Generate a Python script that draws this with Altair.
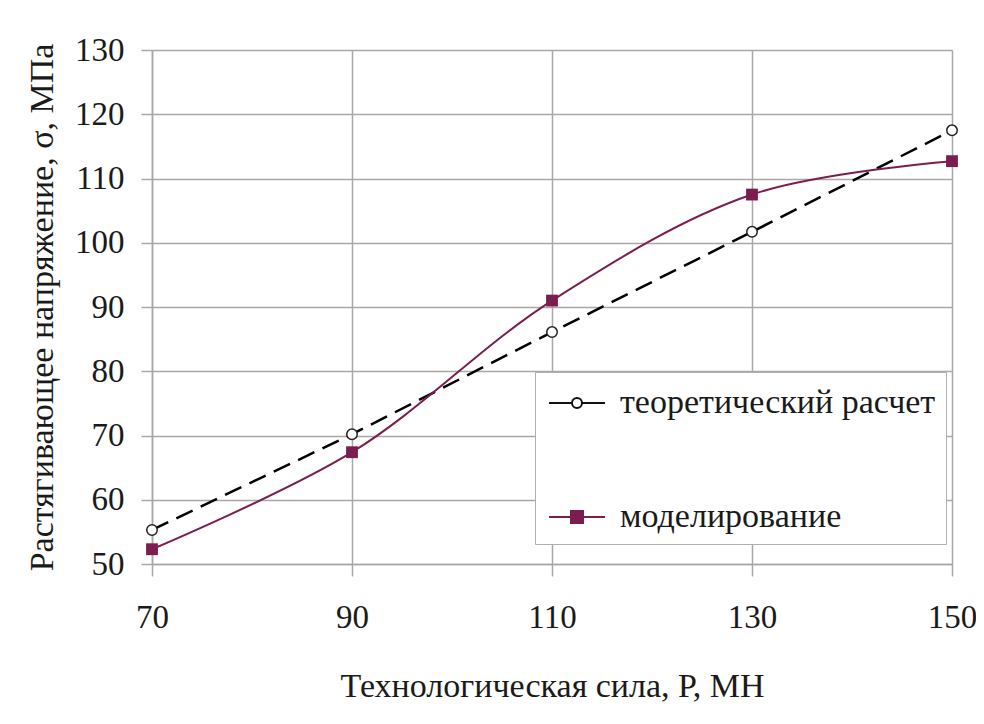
import altair as alt
import pandas as pd

P = [70, 90, 110, 130, 150]
theory = [55.3, 70.2, 86.1, 101.7, 117.5]
model = [52.3, 67.4, 91.0, 107.5, 112.7]
series_names = ["теоретический расчет", "моделирование"]
x_ticks = [70, 90, 110, 130, 150]
y_ticks = [50, 60, 70, 80, 90, 100, 110, 120, 130]

MAROON = "#7b1d4f"
FONT = "serif"

df_t = pd.DataFrame({"P": P, "s": theory, "series": series_names[0]})
df_m = pd.DataFrame({"P": P, "s": model, "series": series_names[1]})
df_all = pd.concat([df_t, df_m], ignore_index=True)

x_enc = alt.X("P:Q", scale=alt.Scale(domain=[70, 150], nice=False),
              axis=alt.Axis(values=x_ticks, title="Технологическая сила, Р, МН",
                            tickSize=12, labelPadding=25, titleY=122, labelFlush=False,
                            titleBaseline="middle", titleFontSize=34))
y_enc = alt.Y("s:Q", scale=alt.Scale(domain=[50, 130], nice=False, zero=False),
              axis=alt.Axis(values=y_ticks, title="Растягивающее напряжение, σ, МПа",
                            tickSize=11, labelPadding=17, titleX=-110, labelFlush=False,
                            titleBaseline="middle", titleFontSize=34))

line_t = alt.Chart(df_t).mark_line(color="black", strokeWidth=2.5,
                                   strokeDash=[18, 9]).encode(x=x_enc, y=y_enc)
line_m = alt.Chart(df_m).mark_line(color=MAROON, strokeWidth=2,
                                   interpolate="catmull-rom").encode(x=x_enc, y=y_enc)
pts_t = alt.Chart(df_t).mark_point(shape="circle", size=110, filled=True, fill="white",
                                   stroke="#222222", strokeWidth=1.5, opacity=1).encode(x=x_enc, y=y_enc)
pts_m = alt.Chart(df_m).mark_point(shape="square", size=140, filled=True, color=MAROON,
                                   opacity=1).encode(x=x_enc, y=y_enc)

circle_path = ("M-0.85,0H0.3 M0.8,0H1.95 "
               "M0.8,0A0.25,0.25 0 1 1 0.3,0A0.25,0.25 0 1 1 0.8,0Z")
square_path = "M-0.85,0H1.95 M0.25,-0.3H0.85V0.3H0.25Z"

legend_def = alt.Legend(title=None, orient="none", legendX=383, legendY=322,
                        padding=10, rowPadding=76, symbolSize=1600,
                        symbolStrokeWidth=2, symbolOpacity=1, labelOffset=33,
                        labelFont=FONT, labelFontSize=34, labelColor="#1a1a1a",
                        labelLimit=0, strokeColor="#b0b0b0", fillColor="white",
                        cornerRadius=0)

legend_layer = alt.Chart(df_all).mark_point(filled=True, opacity=0).encode(
    x=x_enc, y=y_enc,
    shape=alt.Shape("series:N", sort=series_names,
                    scale=alt.Scale(domain=series_names, range=[circle_path, square_path]),
                    legend=legend_def),
    fill=alt.Fill("series:N", sort=series_names,
                  scale=alt.Scale(domain=series_names, range=["white", MAROON]),
                  legend=legend_def),
    stroke=alt.Stroke("series:N", sort=series_names,
                      scale=alt.Scale(domain=series_names, range=["#111111", MAROON]),
                      legend=legend_def),
)

chart = alt.layer(line_t, line_m, pts_t, pts_m, legend_layer).properties(
    width=800, height=514,
    autosize=alt.AutoSizeParams(type="none"),
    padding={"left": 144, "top": 42, "right": 24, "bottom": 150},
    background="white",
).configure_axis(
    grid=True, gridColor="#a8a8a8", gridWidth=1.5, domainColor="#a8a8a8",
    domainWidth=1.5, tickColor="#a8a8a8", tickWidth=1.5,
    labelFont=FONT, labelFontSize=33, labelColor="#1a1a1a",
    titleFont=FONT, titleFontSize=34, titleFontWeight="normal", titleColor="#1a1a1a",
).configure_view(stroke=None)

chart.save("out.html", embed_options={"renderer": "svg", "actions": False})
